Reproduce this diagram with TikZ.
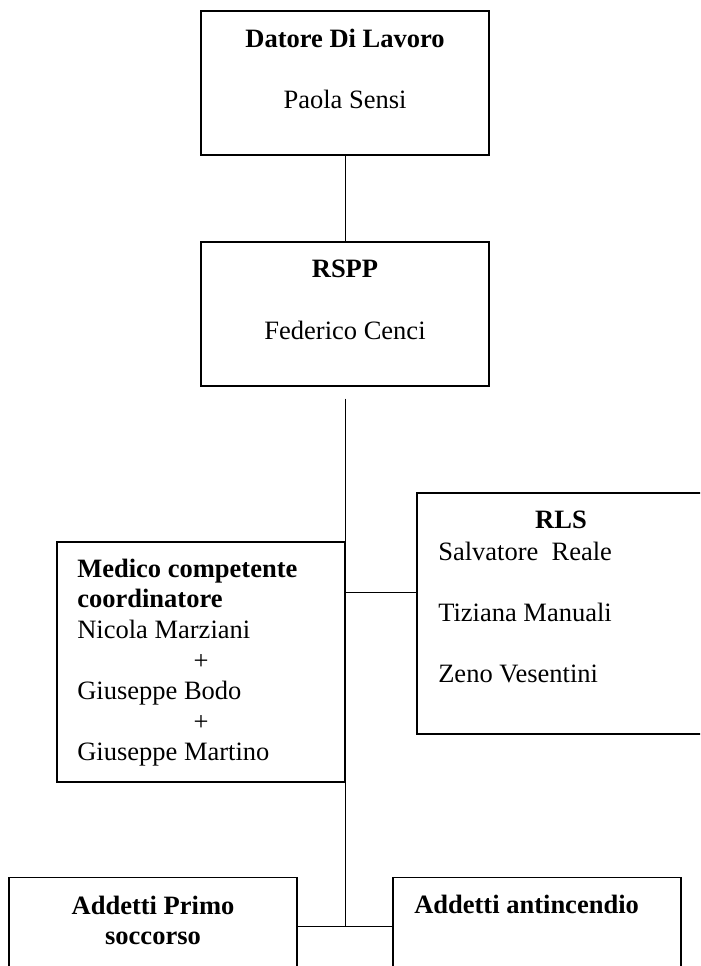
\documentclass[tikz,border=0pt]{standalone}
\usepackage{fontspec}
\setmainfont{Liberation Serif}
\usepackage{tikz}
\usetikzlibrary{positioning,calc}

\tikzset{
    orgbox/.style={draw, line width=0.9pt, inner sep=0pt, minimum width=7.2cm},
    link/.style={line width=0.7pt},
    title/.style={anchor=base, inner sep=0pt, font=\fontsize{18.85}{21.7}\selectfont\bfseries},
    person/.style={anchor=base west, inner sep=0pt}
}

\begin{document}
\begin{tikzpicture}[x=0.025cm, y=-0.025cm, font=\fontsize{18.85}{21.7}\selectfont]
    \useasboundingbox (0,0) rectangle (700,966);
    \clip (0,0) rectangle (700,966);

    % Boxes
    \node[orgbox, minimum height=3.6cm] (datore) at (345,83) {};
    \node[orgbox, minimum height=3.6cm] (rspp) at (345,314) {};
    \node[orgbox, minimum height=6cm] (medico) at (201,662) {};
    \node[orgbox, minimum width=7.15cm, minimum height=6.025cm] (rls) at (560,613.5) {};
    \node[orgbox, minimum height=3.5cm] (primo) at (153,947.5) {};
    \node[orgbox, minimum height=3.5cm] (anti) at (537,947.5) {};

    % Connectors
    \coordinate (rlsjoin) at (345,592);
    \coordinate (hub) at (345,926);
    \draw[link] (datore) -- (rspp);
    \draw[link, shorten <=0.3cm] (rspp.south) -- (hub);
    \draw[link] (rlsjoin) -- (rlsjoin -| rls.west);
    \draw[link] (primo.east |- hub) -- (anti.west |- hub);

    % Datore di lavoro
    \node[title] (datoreT) at (345,47.7) {Datore Di Lavoro};
    \node[anchor=base, inner sep=0pt] (datoreN) at (345,108.3) {Paola Sensi};

    % RSPP
    \node[title] (rsppT) at (345,277.3) {RSPP};
    \node[anchor=base, inner sep=0pt] (rsppN) at (345,339.3) {Federico Cenci};

    % Medico
    \node[title, anchor=base west] (medicoT1) at (77,577.3) {Medico competente};
    \node[title, anchor=base west] (medicoT2) at (77,607.9) {coordinatore};
    \node[person] (medico1) at (77,638.5) {Nicola Marziani};
    \node[anchor=base, inner sep=0pt] (plus1) at (201,669.1) {+};
    \node[person] (medico2) at (77,699.7) {Giuseppe Bodo};
    \node[anchor=base, inner sep=0pt] (plus2) at (201,730.3) {+};
    \node[person] (medico3) at (77,760.9) {Giuseppe Martino};

    % RLS
    \node[title] (rlsT) at (561,528.3) {RLS};
    \node[person] (rls1) at (438,560) {Salvatore~ Reale};
    \node[person] (rls2) at (438,621) {Tiziana Manuali};
    \node[person] (rls3) at (438,682) {Zeno Vesentini};

    % Addetti
    \node[title] (primoT1) at (153,914) {Addetti Primo};
    \node[title] (primoT2) at (153,944) {soccorso};
    \node[title, anchor=base west] (antiT) at (414,913.3) {Addetti antincendio};
\end{tikzpicture}
\end{document}
